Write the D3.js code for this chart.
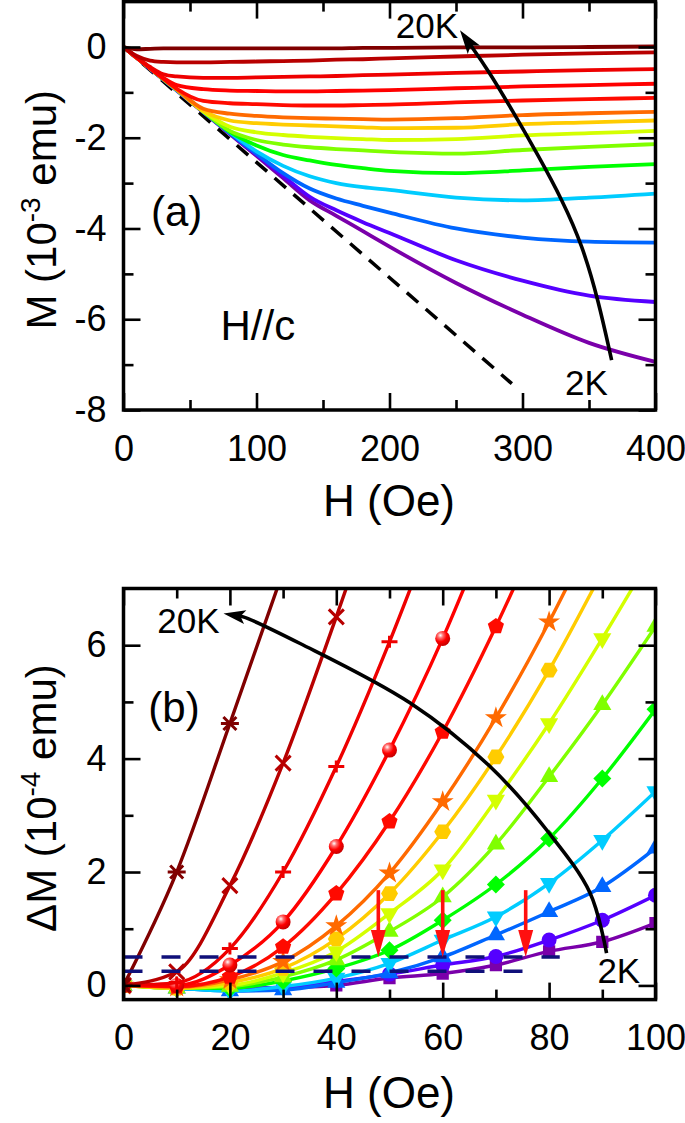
<!DOCTYPE html>
<html><head><meta charset="utf-8">
<script src="https://cdn.jsdelivr.net/npm/d3@7"></script>
<style>
html,body{margin:0;padding:0;background:#fff;}
svg{display:block;font-family:"Liberation Sans",Arial,sans-serif;}
</style></head><body>
<svg id="chart" width="685" height="1123"></svg>
<script>
// ---------- Panel (a): M vs H (10^-3 emu) ----------
const A_H = [0,10,20,30,40,60,80,100,120,140,160,180,200,250,300,350,400];
const A_M01 = [0,-0.05,-0.04,-0.03,-0.03,-0.03,-0.03,-0.03,-0.03,-0.03,-0.03,-0.02,-0.02,-0.01,-0.01,0.0,0.01];   // 20K
const A_M02 = [0,-0.2,-0.3,-0.33,-0.34,-0.34,-0.33,-0.32,-0.31,-0.3,-0.28,-0.27,-0.25,-0.21,-0.17,-0.14,-0.12];
const A_M03 = [0,-0.23,-0.44,-0.6,-0.65,-0.68,-0.68,-0.67,-0.66,-0.65,-0.64,-0.62,-0.61,-0.57,-0.54,-0.51,-0.49];
const A_M04 = [0,-0.24,-0.47,-0.68,-0.84,-0.93,-0.96,-0.97,-0.98,-0.98,-0.97,-0.96,-0.95,-0.91,-0.87,-0.84,-0.81];
const A_M05 = [0,-0.24,-0.47,-0.7,-0.92,-1.19,-1.24,-1.26,-1.28,-1.29,-1.29,-1.28,-1.27,-1.22,-1.18,-1.15,-1.12];
const A_M06 = [0,-0.24,-0.47,-0.7,-0.93,-1.36,-1.47,-1.52,-1.55,-1.57,-1.58,-1.59,-1.6,-1.57,-1.5,-1.46,-1.43];
const A_M07 = [0,-0.24,-0.47,-0.7,-0.93,-1.41,-1.62,-1.68,-1.71,-1.73,-1.75,-1.77,-1.79,-1.78,-1.7,-1.66,-1.62];
const A_M08 = [0,-0.24,-0.47,-0.7,-0.94,-1.42,-1.76,-1.88,-1.94,-1.98,-2.01,-2.03,-2.05,-2.03,-1.95,-1.9,-1.85];
const A_M09 = [0,-0.24,-0.47,-0.71,-0.94,-1.42,-1.85,-2.05,-2.15,-2.21,-2.25,-2.28,-2.31,-2.35,-2.27,-2.2,-2.14];
const A_M10 = [0,-0.24,-0.47,-0.71,-0.94,-1.42,-1.87,-2.17,-2.38,-2.5,-2.6,-2.67,-2.73,-2.78,-2.72,-2.64,-2.58];
const A_M11 = [0,-0.24,-0.47,-0.71,-0.95,-1.42,-1.88,-2.3,-2.62,-2.85,-3.0,-3.09,-3.15,-3.32,-3.38,-3.32,-3.23];
const A_M12 = [0,-0.24,-0.48,-0.71,-0.95,-1.43,-1.9,-2.35,-2.78,-3.12,-3.34,-3.5,-3.65,-4.0,-4.2,-4.29,-4.31];
const A_M13 = [0,-0.24,-0.48,-0.72,-0.95,-1.43,-1.9,-2.37,-2.84,-3.3,-3.6,-3.86,-4.1,-4.7,-5.15,-5.48,-5.62];
const A_M14 = [0,-0.24,-0.48,-0.72,-0.96,-1.44,-1.92,-2.4,-2.89,-3.38,-3.72,-4.06,-4.4,-5.2,-5.9,-6.52,-6.94]; // 2K
const A_dashH = [0,292];
const A_dashM = [0,-7.42];
const A_arrowH = [367,357,345,330,312,293,274,253];
const A_arrowM = [-6.9,-5.58,-4.37,-3.38,-2.4,-1.43,-0.5,0.37];
const A_xMajor = [0,100,200,300,400], A_xMinor = [50,150,250,350];
const A_yMajor = [-8,-6,-4,-2,0], A_yMinor = [-7,-5,-3,-1];

// ---------- Panel (b): ΔM vs H (10^-4 emu) ----------
const B_H = [0,10,20,30,40,50,60,70,80,90,100];
const B_D01 = [0,2.0,4.62,7.3];                                        // 20K
const B_D02 = [0,0.24,1.76,3.92,6.5,9.2];
const B_D03 = [0,0.05,0.65,2.0,3.86,6.06,8.5];
const B_D04 = [0,0.0,0.36,1.12,2.45,4.15,6.12,8.4];
const B_D05 = [0,-0.02,0.15,0.68,1.62,2.89,4.47,6.33,8.4];
const B_D06 = [0,-0.03,0.1,0.42,1.05,1.98,3.24,4.72,6.41,8.3];
const B_D07 = [0,-0.05,0.05,0.3,0.82,1.62,2.71,4.03,5.56,7.3];
const B_D08 = [0,-0.05,0.0,0.22,0.6,1.27,2.04,3.27,4.62,6.12,7.7];
const B_D09 = [0,-0.05,-0.02,0.15,0.45,0.95,1.56,2.49,3.68,4.95,6.33];
const B_D10 = [0,-0.05,-0.05,0.08,0.3,0.62,1.15,1.78,2.59,3.65,4.87];
const B_D11 = [0,-0.05,-0.1,-0.02,0.13,0.39,0.8,1.21,1.8,2.56,3.42];
const B_D12 = [0,-0.05,-0.1,-0.08,0.05,0.22,0.5,0.89,1.3,1.74,2.42];
const B_D13 = [0,-0.03,-0.05,-0.03,0.07,0.2,0.36,0.51,0.8,1.15,1.59];
const B_D14 = [0,-0.05,-0.08,-0.05,0.0,0.13,0.21,0.36,0.6,0.77,1.1]; // 2K
const B_arrowH = [90.8,87.7,79.8,68.9,53.9,33.2,22.5,18.8];
const B_arrowD = [0.57,1.63,2.71,3.86,4.98,6.03,6.5,6.56];
const B_refLevels = [0.5,0.25];
const B_refEndH = [82,75];
const B_redArrowH = [47.9,60,75.6];
const B_redArrowFrom = 1.68, B_redArrowTo = 0.5;
const B_xMajor = [0,20,40,60,80,100], B_xMinor = [10,30,50,70,90];
const B_yMajor = [0,2,4,6], B_yMinor = [1,3,5];

const seriesColors = ["#800000","#b80000","#ee0000","#ff0000","#ff0a00","#ff6a00","#ffcc00","#d4ff00","#80ff00","#00ff00","#00ccff","#0066ff","#5500ff","#7a00aa"];
const seriesMarkers = ["asterisk","cross","plus","sphere","pentagon","star","hexagon","triDown","triUp","diamond","triDown","triUp","circle","square"];
const A_series = [A_M01,A_M02,A_M03,A_M04,A_M05,A_M06,A_M07,A_M08,A_M09,A_M10,A_M11,A_M12,A_M13,A_M14];
const B_series = [B_D01,B_D02,B_D03,B_D04,B_D05,B_D06,B_D07,B_D08,B_D09,B_D10,B_D11,B_D12,B_D13,B_D14];

// ---------- drawing ----------
const svg = d3.select("#chart");
const FONT = '"Liberation Sans",Arial,sans-serif';
const defs = svg.append("defs");
const grad = defs.append("radialGradient").attr("id","sph").attr("cx","35%").attr("cy","30%").attr("r","70%");
grad.append("stop").attr("offset","0%").attr("stop-color","#ffffff");
grad.append("stop").attr("offset","25%").attr("stop-color","#ff7070");
grad.append("stop").attr("offset","60%").attr("stop-color","#ff0000");
grad.append("stop").attr("offset","100%").attr("stop-color","#c80000");

const xA = d3.scaleLinear().domain([0,400]).range([123.5,655.5]);
const yA = d3.scaleLinear().domain([-8,1]).range([410,1.6]);
const xB = d3.scaleLinear().domain([0,100]).range([123.5,655.5]);
const yB = d3.scaleLinear().domain([-0.25,7]).range([999.6,588.5]);

function clip(id,x,y){
  defs.append("clipPath").attr("id",id).append("rect")
    .attr("x",x.range()[0]).attr("y",y.range()[1])
    .attr("width",x.range()[1]-x.range()[0]).attr("height",y.range()[0]-y.range()[1]);
}
clip("clipA",xA,yA); clip("clipB",xB,yB);

function styleAxis(g){
  g.select(".domain").remove();
  g.attr("font-size",36).attr("font-family",FONT);
  g.selectAll("line").attr("stroke","#000").attr("stroke-width",2.6);
  g.selectAll("text").attr("fill","#000");
}
function drawAxes(x,y,xMaj,xMin,yMaj,yMin){
  const [xl,xr]=x.range(), [yb,yt]=y.range();
  const g = svg.append("g");
  const fmt = d=>String(d);
  g.append("g").attr("transform",`translate(0,${yb})`).call(d3.axisBottom(x).tickValues(xMaj).tickSize(-17).tickPadding(25).tickFormat(fmt)).call(styleAxis);
  g.append("g").attr("transform",`translate(0,${yb})`).call(d3.axisBottom(x).tickValues(xMin).tickSize(-10).tickFormat("")).call(styleAxis);
  g.append("g").attr("transform",`translate(0,${yt})`).call(d3.axisTop(x).tickValues(xMaj).tickSize(-17).tickFormat("")).call(styleAxis);
  g.append("g").attr("transform",`translate(0,${yt})`).call(d3.axisTop(x).tickValues(xMin).tickSize(-10).tickFormat("")).call(styleAxis);
  g.append("g").attr("transform",`translate(${xl},0)`).call(d3.axisLeft(y).tickValues(yMaj).tickSize(-17).tickPadding(17).tickFormat(fmt)).call(styleAxis);
  g.append("g").attr("transform",`translate(${xl},0)`).call(d3.axisLeft(y).tickValues(yMin).tickSize(-10).tickFormat("")).call(styleAxis);
  g.append("g").attr("transform",`translate(${xr},0)`).call(d3.axisRight(y).tickValues(yMaj).tickSize(-17).tickFormat("")).call(styleAxis);
  g.append("g").attr("transform",`translate(${xr},0)`).call(d3.axisRight(y).tickValues(yMin).tickSize(-10).tickFormat("")).call(styleAxis);
  g.append("rect").attr("x",xl).attr("y",yt).attr("width",xr-xl).attr("height",yb-yt)
    .attr("fill","none").attr("stroke","#000").attr("stroke-width",3.5);
}

// curved arrow: smooth path through pixel points, line stops short of the tip, filled head at tip
function curvedArrow(g,pts,len,wid,curve){
  const n=pts.length, tip=pts[n-1], prev=pts[n-2];
  const dx=tip[0]-prev[0], dy=tip[1]-prev[1], d=Math.hypot(dx,dy);
  const stop=[tip[0]-dx/d*len*0.7, tip[1]-dy/d*len*0.7];
  g.append("path").attr("d",d3.line().curve(curve)(pts.slice(0,-1).concat([stop])))
    .attr("fill","none").attr("stroke","#000").attr("stroke-width",3.6);
  const ang=Math.atan2(dy,dx)*180/Math.PI;
  g.append("path").attr("d",`M0,0 L${-len},${wid/2} L${-len*0.78},0 L${-len},${-wid/2}Z`)
    .attr("transform",`translate(${tip[0]},${tip[1]}) rotate(${ang})`).attr("fill","#000");
}

function poly(n,R,off){
  const pts=[];
  for(let k=0;k<n;k++){const a=(off+360*k/n)*Math.PI/180;pts.push([R*Math.cos(a),R*Math.sin(a)]);}
  return "M"+pts.map(p=>p.join(",")).join("L")+"Z";
}
function markerPath(t){
  switch(t){
    case "asterisk": return "M-9,0H9M-6.5,-6.5L6.5,6.5M-6.5,6.5L6.5,-6.5";
    case "cross": return "M-7.5,-7.5L7.5,7.5M-7.5,7.5L7.5,-7.5";
    case "plus": return "M-8,0H8M0,-6V6";
    case "sphere": return d3.symbol(d3.symbolCircle,Math.PI*7.5*7.5)();
    case "circle": return d3.symbol(d3.symbolCircle,Math.PI*7.5*7.5)();
    case "pentagon": return poly(5,8.5,-90);
    case "hexagon": return poly(6,8.5,0);
    case "star": return d3.symbol(d3.symbolStar,150)();
    case "triUp": return poly(3,10.5,-90);
    case "triDown": return poly(3,10.5,90);
    case "diamond": return poly(4,9,-90);
    case "square": return d3.symbol(d3.symbolSquare,150)();
  }
}

// ----- Panel (a) -----
const gA = svg.append("g").attr("clip-path","url(#clipA)");
const lineA = d3.line().x(d=>xA(d[0])).y(d=>yA(d[1])).curve(d3.curveMonotoneX);
gA.append("path").datum(A_dashH.map((h,i)=>[h,A_dashM[i]])).attr("d",d3.line().x(d=>xA(d[0])).y(d=>yA(d[1])))
  .attr("fill","none").attr("stroke","#000").attr("stroke-width",3.5).attr("stroke-dasharray","15,10");
for(let i=A_series.length-1;i>=0;i--){
  gA.append("path").datum(A_H.map((h,j)=>[h,A_series[i][j]])).attr("d",lineA)
    .attr("fill","none").attr("stroke",seriesColors[i]).attr("stroke-width",3.8).attr("stroke-linejoin","round");
}
curvedArrow(svg.append("g"),A_arrowH.map((h,i)=>[xA(h),yA(A_arrowM[i])]),24,15,d3.curveBasis);
drawAxes(xA,yA,A_xMajor,A_xMinor,A_yMajor,A_yMinor);

svg.append("text").attr("x",xA(253)-2).attr("y",yA(0.37)+8).attr("text-anchor","end")
  .attr("font-size",35).attr("font-family",FONT).text("20K");
svg.append("text").attr("x",xA(348)).attr("y",yA(-7.68)).attr("text-anchor","middle")
  .attr("font-size",35).attr("font-family",FONT).text("2K");
svg.append("text").attr("x",xA(40)).attr("y",yA(-3.64)+14).attr("text-anchor","middle")
  .attr("font-size",42).attr("font-family",FONT).text("(a)");
svg.append("text").attr("x",xA(101)).attr("y",yA(-6.15)+14).attr("text-anchor","middle")
  .attr("font-size",42).attr("font-family",FONT).text("H//c");
svg.append("text").attr("x",389).attr("y",yA.range()[0]+106).attr("text-anchor","middle")
  .attr("font-size",44).attr("font-family",FONT).text("H (Oe)");
const tA = svg.append("text").attr("transform",`translate(56,${(yA.range()[0]+yA.range()[1])/2+4}) rotate(-90)`)
  .attr("text-anchor","middle").attr("font-size",42).attr("font-family",FONT);
tA.append("tspan").text("M (10");
tA.append("tspan").attr("font-size",28).attr("dy",-16).text("-3");
tA.append("tspan").attr("dy",16).text(" emu)");

// ----- Panel (b) -----
const gB = svg.append("g").attr("clip-path","url(#clipB)");
const lineB = d3.line().x(d=>xB(d[0])).y(d=>yB(d[1])).curve(d3.curveMonotoneX);
for(let i=B_series.length-1;i>=0;i--){
  const pts = B_series[i].map((v,j)=>[B_H[j],v]);
  const col = seriesColors[i], mk = seriesMarkers[i];
  gB.append("path").datum(pts).attr("d",lineB).attr("fill","none").attr("stroke",col)
    .attr("stroke-width",3.4).attr("stroke-linejoin","round");
  const stroked = (mk==="asterisk"||mk==="cross"||mk==="plus");
  gB.append("g").selectAll("path").data(pts).join("path")
    .attr("d",markerPath(mk))
    .attr("transform",d=>`translate(${xB(d[0])},${yB(d[1])})`)
    .attr("fill",stroked?"none":(mk==="sphere"?"url(#sph)":col))
    .attr("stroke",stroked?col:"none").attr("stroke-width",stroked?3:0);
}
B_refLevels.forEach((lv,i)=>{
  gB.append("line").attr("x1",xB(0)).attr("x2",xB(B_refEndH[i])).attr("y1",yB(lv)).attr("y2",yB(lv))
    .attr("stroke","#10107a").attr("stroke-width",3.4).attr("stroke-dasharray","19,19");
});
const gAnnB = svg.append("g");
B_redArrowH.forEach(h=>{
  const x=xB(h), y1=yB(B_redArrowFrom), y2=yB(B_redArrowTo);
  gAnnB.append("line").attr("x1",x).attr("x2",x).attr("y1",y1).attr("y2",y2-18)
    .attr("stroke","#ff1010").attr("stroke-width",3.6);
  gAnnB.append("path").attr("d",`M${x},${y2}L${x-7.5},${y2-27}L${x+7.5},${y2-27}Z`).attr("fill","#ff1010");
});
curvedArrow(gAnnB,B_arrowH.map((h,i)=>[xB(h),yB(B_arrowD[i])]),22,14,d3.curveCatmullRom.alpha(0.5));
drawAxes(xB,yB,B_xMajor,B_xMinor,B_yMajor,B_yMinor);

svg.append("text").attr("x",xB(18.8)-4).attr("y",yB(6.56)+20).attr("text-anchor","end")
  .attr("font-size",35).attr("font-family",FONT).text("20K");
svg.append("text").attr("x",xB(93.1)).attr("y",yB(0.04)).attr("text-anchor","middle")
  .attr("font-size",35).attr("font-family",FONT).text("2K");
svg.append("text").attr("x",xB(9.5)).attr("y",yB(4.9)+14).attr("text-anchor","middle")
  .attr("font-size",42).attr("font-family",FONT).text("(b)");
svg.append("text").attr("x",389).attr("y",yB.range()[0]+108).attr("text-anchor","middle")
  .attr("font-size",44).attr("font-family",FONT).text("H (Oe)");
const tB = svg.append("text").attr("transform",`translate(56,${(yB.range()[0]+yB.range()[1])/2+4}) rotate(-90)`)
  .attr("text-anchor","middle").attr("font-size",42).attr("font-family",FONT);
tB.append("tspan").text("ΔM (10");
tB.append("tspan").attr("font-size",28).attr("dy",-16).text("-4");
tB.append("tspan").attr("dy",16).text(" emu)");
</script></body></html>
